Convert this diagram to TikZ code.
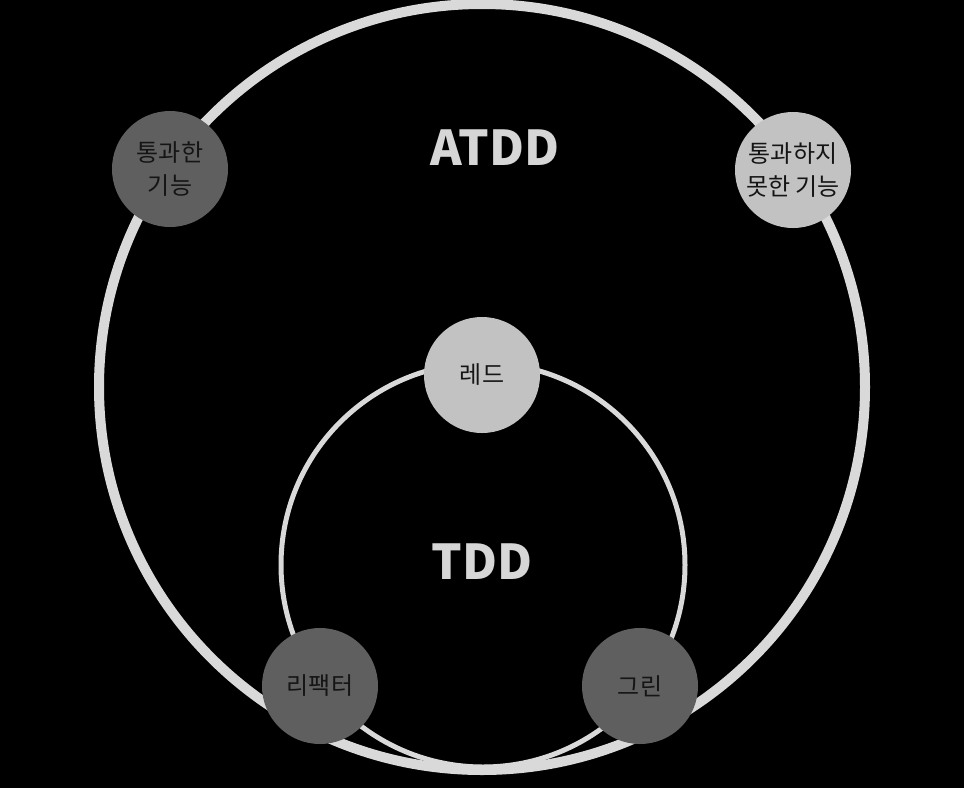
\documentclass[tikz,border=0pt]{standalone}
\usepackage{fontspec}
\setmainfont{Noto Sans CJK KR}
\usepackage{xcolor}
\definecolor{ringGray}{HTML}{D9D9D9}
\definecolor{dotDark}{HTML}{5F5F5F}
\definecolor{dotLight}{HTML}{C2C2C2}
\definecolor{textDark}{HTML}{151515}
\definecolor{titleGray}{HTML}{D6D6D6}

\begin{document}
\begin{tikzpicture}[
    x=1pt, y=-1pt,
    ring/.style={draw=ringGray},
    dot/.style={circle, minimum size=116pt, inner sep=0pt, text=textDark, align=center, font=\fontsize{24}{33}\selectfont},
    title/.style={text=titleGray, font=\fontsize{48}{50}\selectfont\bfseries}
]
    \useasboundingbox (0,0) rectangle (964,788);
    \fill[black] (0,0) rectangle (964,788);

    \coordinate (atdd) at (482,387);
    \coordinate (tdd) at (483,565);
    \draw[ring, line width=10pt] (atdd) circle (383pt);
    \draw[ring, line width=5pt] (tdd) circle (202pt);

    % features on the outer cycle, steps on the inner one
    \node[dot, fill=dotDark] (passed) at (170,169) {통과한\\기능};
    \node[dot, fill=dotLight] (failed) at (793,170) {통과하지\\못한 기능};
    \node[dot, fill=dotLight] (red) at (482,375) {레드};
    \node[dot, fill=dotDark] (refactor) at (320,686) {리팩터};
    \node[dot, fill=dotDark] (green) at (640,686) {그린};

    \node[title] (atddlabel) at (495,148) {ATDD};
    \node[title] (tddlabel) at (482,562) {TDD};
\end{tikzpicture}
\end{document}
